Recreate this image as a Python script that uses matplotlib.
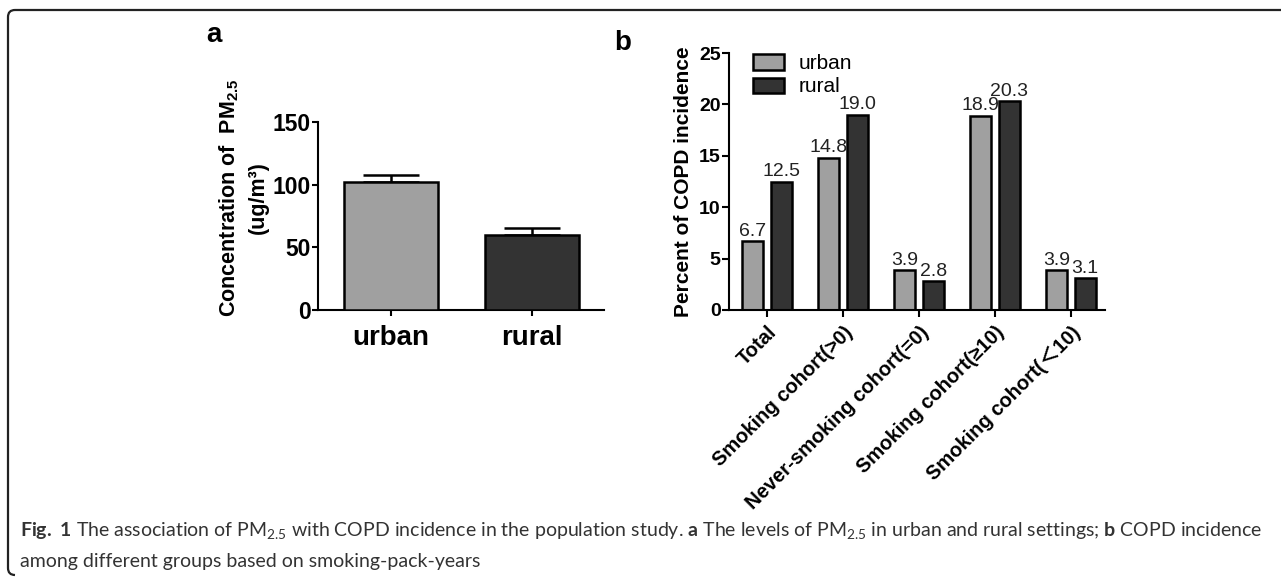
import matplotlib
matplotlib.use("Agg")
import numpy as np
import matplotlib.pyplot as plt
from matplotlib.path import Path as MPath
from matplotlib.patches import PathPatch

# ---- data -------------------------------------------------------------
pm_groups = ["urban", "rural"]
pm_means = [102, 60]
pm_errors = [6, 5.5]

copd_groups = [
    "Total",
    "Smoking cohort(>0)",
    "Never-smoking cohort(=0)",
    "Smoking cohort(\u226510)",
    "Smoking cohort(\uff1c10)",
]
copd_urban = [6.7, 14.8, 3.9, 18.9, 3.9]
copd_rural = [12.5, 19.0, 2.8, 20.3, 3.1]

URBAN_COLOR = "#a0a0a0"
RURAL_COLOR = "#333333"
FONT = ["Liberation Sans", "Noto Sans CJK SC", "DejaVu Sans"]
CAP_FONT = ["Lato", "DejaVu Sans"]

plt.rcParams["font.family"] = FONT
plt.rcParams["mathtext.fontset"] = "custom"
plt.rcParams["mathtext.bf"] = "Lato:bold"

W, H = 1281, 578
fig = plt.figure(figsize=(W / 100, H / 100), dpi=100)


def fx(px):
    return px / W


def fy(py):
    return 1 - py / H


# ---- frame ------------------------------------------------------------
r = 7
verts = [
    (W + 2, 10), (8 + r, 10), (8, 10), (8, 10 + r),
    (8, H - 3 - r), (8, H - 3), (8 + r, H - 3),
]
codes = [MPath.MOVETO, MPath.LINETO, MPath.CURVE3, MPath.CURVE3,
         MPath.LINETO, MPath.CURVE3, MPath.CURVE3]
frame = PathPatch(MPath([(fx(x), fy(y)) for x, y in verts], codes),
                  transform=fig.transFigure, fill=False, lw=1.6, ec="#222222")
fig.add_artist(frame)

# ---- panel a ----------------------------------------------------------
ax_a = fig.add_axes([fx(318), fy(310), fx(604) - fx(318), fy(122) - fy(310)])
xa = np.arange(len(pm_groups))
ax_a.bar(xa, pm_means, width=0.667, color=[URBAN_COLOR, RURAL_COLOR],
         edgecolor="black", linewidth=1.8, zorder=3)
for x, m, e in zip(xa, pm_means, pm_errors):
    ax_a.errorbar([x], [m], yerr=[[0], [e]], fmt="none", ecolor="black",
                  elinewidth=1.8, capsize=20, capthick=1.8, zorder=2)
ax_a.set_xlim(-0.518, 1.51)
ax_a.set_ylim(0, 150)
ax_a.set_yticks([0, 50, 100, 150])
ax_a.set_xticks(xa)
ax_a.set_xticklabels(pm_groups, fontsize=20, fontweight="bold")
for lab in ax_a.get_yticklabels():
    lab.set_fontsize(16.5)
    lab.set_fontweight("bold")
ax_a.tick_params(axis="both", length=4.5, width=1.5, pad=0.5)
ax_a.tick_params(axis="x", pad=6)
for side in ["top", "right"]:
    ax_a.spines[side].set_visible(False)
for side in ["left", "bottom"]:
    ax_a.spines[side].set_linewidth(1.5)
ax_a.text(-0.31, 0.6, "Concentration of  PM$_{\\mathregular{2.5}}$",
          transform=ax_a.transAxes, rotation=90, ha="center", va="center",
          fontsize=15.5, fontweight="bold", family="Liberation Sans")
ax_a.text(-0.21, 0.6, "(ug/m\u00b3)", transform=ax_a.transAxes, rotation=90,
          ha="center", va="center", fontsize=15.5, fontweight="bold")
fig.text(fx(206), fy(22), "a", fontsize=20, fontweight="bold", va="top")

# ---- panel b ----------------------------------------------------------
ax_b = fig.add_axes([fx(729), fy(310), fx(1105) - fx(729), fy(53) - fy(310)])
xb = np.arange(len(copd_groups))
off, bw = 0.19, 0.275
b1 = ax_b.bar(xb - off, copd_urban, width=bw, color=URBAN_COLOR,
              edgecolor="black", linewidth=1.8, label="urban")
b2 = ax_b.bar(xb + off, copd_rural, width=bw, color=RURAL_COLOR,
              edgecolor="black", linewidth=1.8, label="rural")
for bars in (b1, b2):
    ax_b.bar_label(bars, labels=[f"{v:.1f}" for v in bars.datavalues],
                   padding=1, fontsize=14, color="#222222")
ax_b.set_xlim(-0.5, 4.45)
ax_b.set_ylim(0, 25)
ax_b.set_yticks([0, 5, 10, 15, 20, 25])
ax_b.set_xticks(xb)
ax_b.set_xticklabels(copd_groups, rotation=45, ha="right",
                     rotation_mode="anchor", fontsize=14.5, fontweight="bold")
for lab in ax_b.get_yticklabels():
    lab.set_fontsize(14)
    lab.set_fontweight("bold")
ax_b.tick_params(axis="both", length=5, width=1.5, pad=1)
ax_b.tick_params(axis="x", pad=4)
for side in ["top", "right"]:
    ax_b.spines[side].set_visible(False)
for side in ["left", "bottom"]:
    ax_b.spines[side].set_linewidth(1.5)
ax_b.set_ylabel("Percent of COPD incidence", fontsize=15,
                fontweight="bold", labelpad=4)
ax_b.legend(loc="upper left", bbox_to_anchor=(0.065, 0.995), frameon=False,
            fontsize=15, handlelength=1.45, handleheight=0.75,
            handletextpad=0.7, labelspacing=0.2, borderaxespad=0,
            borderpad=0)
fig.text(fx(614), fy(30), "b", fontsize=20, fontweight="bold", va="top")

# ---- caption ----------------------------------------------------------
line1 = ("$\\mathbf{Fig.}$ $\\mathbf{1}$ The association of PM$_{\\mathregular{2.5}}$ "
         "with COPD incidence in the population study. $\\mathbf{a}$ The "
         "levels of PM$_{\\mathregular{2.5}}$ in urban and rural settings; "
         "$\\mathbf{b}$ COPD incidence")
line2 = "among different groups based on smoking-pack-years"
fig.text(fx(20), fy(531), line1, fontsize=14.0, family=CAP_FONT,
         va="center", color="#333333")
fig.text(fx(20), fy(561), line2, fontsize=14.0, family=CAP_FONT,
         va="center", color="#333333")

fig.savefig("out.png", dpi=100)
